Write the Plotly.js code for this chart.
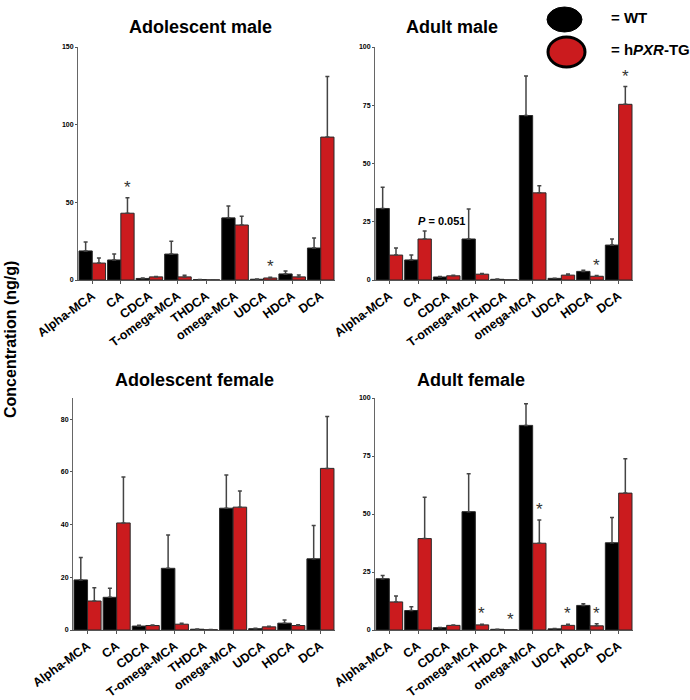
<!DOCTYPE html>
<html>
<head>
<meta charset="utf-8">
<script src="https://cdn.plot.ly/plotly-3.0.1.min.js"></script>
<style>
  html, body { margin: 0; padding: 0; background: #ffffff; }
  #chart { width: 690px; height: 700px; }
</style>
</head>
<body>
<div id="chart"></div>
<script>
const bileAcids = ['Alpha-MCA', 'CA', 'CDCA', 'T-omega-MCA', 'THDCA', 'omega-MCA', 'UDCA', 'HDCA', 'DCA'];

// adolescent male
const adolMaleWT = [18.7, 12.9, 1.0, 16.7, 0.3, 40.0, 0.5, 3.9, 20.6];
const adolMaleWTErr = [5.8, 3.8, 0.3, 8.3, 0.1, 7.6, 0.2, 1.9, 6.4];
const adolMaleTG = [10.9, 43.0, 2.0, 2.0, 0.1, 35.4, 1.3, 2.0, 92.0];
const adolMaleTGErr = [3.3, 10.0, 0.3, 1.0, 0.05, 5.6, 0.5, 1.2, 39.0];
const adolMaleStars = [1, 6];

// adult male
const adultMaleWT = [30.7, 8.6, 1.3, 17.6, 0.3, 70.6, 0.7, 3.7, 15.0];
const adultMaleWTErr = [9.1, 2.1, 0.2, 12.9, 0.1, 17.0, 0.1, 0.5, 2.6];
const adultMaleTG = [10.7, 17.6, 1.8, 2.5, 0.1, 37.4, 2.1, 1.6, 75.4];
const adultMaleTGErr = [3.0, 3.4, 0.2, 0.3, 0.05, 3.0, 0.5, 0.3, 7.6];
const adultMaleStars = [7, 8];

// adolescent female
const adolFemaleWT = [19.0, 12.4, 1.5, 23.4, 0.3, 46.2, 0.5, 2.6, 27.0];
const adolFemaleWTErr = [8.5, 3.4, 0.3, 12.6, 0.1, 12.6, 0.2, 1.2, 12.6];
const adolFemaleTG = [11.0, 40.6, 1.7, 2.2, 0.1, 46.6, 1.2, 1.7, 61.3];
const adolFemaleTGErr = [5.0, 17.4, 0.2, 0.4, 0.05, 6.1, 0.2, 0.3, 19.7];
const adolFemaleStars = [];

// adult female
const adultFemaleWT = [22.1, 8.4, 1.0, 51.0, 0.3, 88.2, 0.5, 10.6, 37.6];
const adultFemaleWTErr = [1.4, 1.6, 0.1, 16.4, 0.05, 9.3, 0.1, 0.7, 10.9];
const adultFemaleTG = [12.1, 39.4, 2.0, 2.2, 0.1, 37.4, 2.0, 1.8, 59.0];
const adultFemaleTGErr = [2.6, 17.8, 0.2, 0.3, 0.05, 10.0, 0.5, 0.9, 14.8];
const adultFemaleStars = [3, 4, 5, 6, 7];

const FONT = 'Liberation Sans, Arial, sans-serif';
const WT_COLOR = '#000000';
const TG_COLOR = '#cb1b1e';
const positions = bileAcids.map((_, i) => i);

function barTrace(values, errors, color, axisId) {
  return {
    type: 'bar',
    x: positions,
    y: values,
    xaxis: 'x' + axisId,
    yaxis: 'y' + axisId,
    marker: { color: color, line: { color: '#2a2a2a', width: 1 } },
    error_y: {
      type: 'data',
      symmetric: false,
      array: errors,
      arrayminus: errors.map(() => 0),
      color: '#444444',
      thickness: 1.5,
      width: 2,
    },
    hoverinfo: 'skip',
  };
}

function xAxis(domain, yId) {
  return {
    domain: domain,
    anchor: yId,
    range: [-0.5, 8.5],
    tickvals: positions,
    ticktext: bileAcids,
    tickangle: -36,
    tickfont: { family: FONT, size: 12.5, weight: 'bold', color: '#000' },
    ticks: 'outside',
    ticklen: 3,
    tickcolor: '#555',
    showline: true,
    linecolor: '#555',
    linewidth: 1,
    showgrid: false,
    zeroline: false,
  };
}

function yAxis(domain, xId, range, tickvals) {
  return {
    domain: domain,
    anchor: xId,
    range: range,
    tickvals: tickvals,
    tickfont: { family: FONT, size: 7, weight: 'bold', color: '#000' },
    ticks: 'outside',
    ticklen: 2,
    tickcolor: '#555',
    showline: true,
    linecolor: '#666',
    linewidth: 1,
    showgrid: false,
    zeroline: false,
  };
}

const panels = [
  { id: '', wt: adolMaleWT, wtErr: adolMaleWTErr, tg: adolMaleTG, tgErr: adolMaleTGErr, stars: adolMaleStars },
  { id: '2', wt: adultMaleWT, wtErr: adultMaleWTErr, tg: adultMaleTG, tgErr: adultMaleTGErr, stars: adultMaleStars },
  { id: '3', wt: adolFemaleWT, wtErr: adolFemaleWTErr, tg: adolFemaleTG, tgErr: adolFemaleTGErr, stars: adolFemaleStars },
  { id: '4', wt: adultFemaleWT, wtErr: adultFemaleWTErr, tg: adultFemaleTG, tgErr: adultFemaleTGErr, stars: adultFemaleStars },
];

const traces = [];
const annotations = [];

panels.forEach(p => {
  traces.push(barTrace(p.wt, p.wtErr, WT_COLOR, p.id));
  traces.push(barTrace(p.tg, p.tgErr, TG_COLOR, p.id));
  p.stars.forEach(i => {
    annotations.push({
      xref: 'x' + p.id, yref: 'y' + p.id,
      x: i + 0.23, y: p.tg[i] + p.tgErr[i],
      text: '*', showarrow: false,
      yanchor: 'bottom', yshift: -1,
      font: { family: FONT, size: 17, color: '#333' },
    });
  });
});

// P value label over adult male CA
annotations.push({
  xref: 'x2', yref: 'y2',
  x: 1.81, y: adultMaleTG[1] + adultMaleTGErr[1],
  text: '<i>P</i> = 0.051', showarrow: false,
  yanchor: 'bottom', yshift: 2,
  font: { family: FONT, size: 11, weight: 'bold', color: '#000' },
});

// panel titles
const titleFont = { family: FONT, size: 18, weight: 'bold', color: '#000' };
[
  ['Adolescent male', 200, 27],
  ['Adult male', 452, 27],
  ['Adolescent female', 195, 380],
  ['Adult female', 471, 380],
].forEach(([text, px, py]) => {
  annotations.push({
    xref: 'paper', yref: 'paper', x: px / 690, y: 1 - py / 700,
    text: text, showarrow: false, xanchor: 'center', yanchor: 'middle',
    font: titleFont,
  });
});

// shared y title
annotations.push({
  xref: 'paper', yref: 'paper', x: 10 / 690, y: 1 - 340 / 700,
  text: 'Concentration (ng/g)', textangle: -90, showarrow: false,
  xanchor: 'center', yanchor: 'middle',
  font: { family: FONT, size: 16, weight: 'bold', color: '#000' },
});

// legend text
const legendFont = { family: FONT, size: 15, weight: 'bold', color: '#000' };
annotations.push({
  xref: 'paper', yref: 'paper', x: 609 / 690, y: 1 - 18 / 700,
  text: '= WT', showarrow: false, xanchor: 'left', yanchor: 'middle', font: legendFont,
});
annotations.push({
  xref: 'paper', yref: 'paper', x: 609 / 690, y: 1 - 50 / 700,
  text: '= h<i>PXR</i>-TG', showarrow: false, xanchor: 'left', yanchor: 'middle', font: legendFont,
});

const shapes = [
  {
    type: 'circle', xref: 'paper', yref: 'paper',
    x0: 547 / 690, x1: 582 / 690, y0: 1 - 32 / 700, y1: 1 - 7 / 700,
    fillcolor: WT_COLOR, line: { color: '#000', width: 1 },
  },
  {
    type: 'circle', xref: 'paper', yref: 'paper',
    x0: 548 / 690, x1: 585 / 690, y0: 1 - 67 / 700, y1: 1 - 37 / 700,
    fillcolor: TG_COLOR, line: { color: '#000', width: 3 },
  },
];

const topDom = [0.6, 1 - 47 / 700];
const botDom = [0.1, 1 - 398 / 700];
const leftDom = [78 / 690, 335 / 690];
const leftDom2 = [73 / 690, 335 / 690];
const rightDom = [375 / 690, 633 / 690];

const layout = {
  width: 690,
  height: 700,
  margin: { l: 0, r: 0, t: 0, b: 0 },
  paper_bgcolor: '#ffffff',
  plot_bgcolor: '#ffffff',
  showlegend: false,
  barmode: 'group',
  bargap: 0.07,
  bargroupgap: 0,
  xaxis: xAxis(leftDom, 'y'),
  yaxis: yAxis(topDom, 'x', [0, 150], [0, 50, 100, 150]),
  xaxis2: xAxis(rightDom, 'y2'),
  yaxis2: yAxis(topDom, 'x2', [0, 100], [0, 25, 50, 75, 100]),
  xaxis3: xAxis(leftDom2, 'y3'),
  yaxis3: yAxis(botDom, 'x3', [0, 88], [0, 20, 40, 60, 80]),
  xaxis4: xAxis(rightDom, 'y4'),
  yaxis4: yAxis(botDom, 'x4', [0, 100], [0, 25, 50, 75, 100]),
  annotations: annotations,
  shapes: shapes,
};

Plotly.newPlot('chart', traces, layout, { staticPlot: true, displayModeBar: false });
</script>
</body>
</html>
